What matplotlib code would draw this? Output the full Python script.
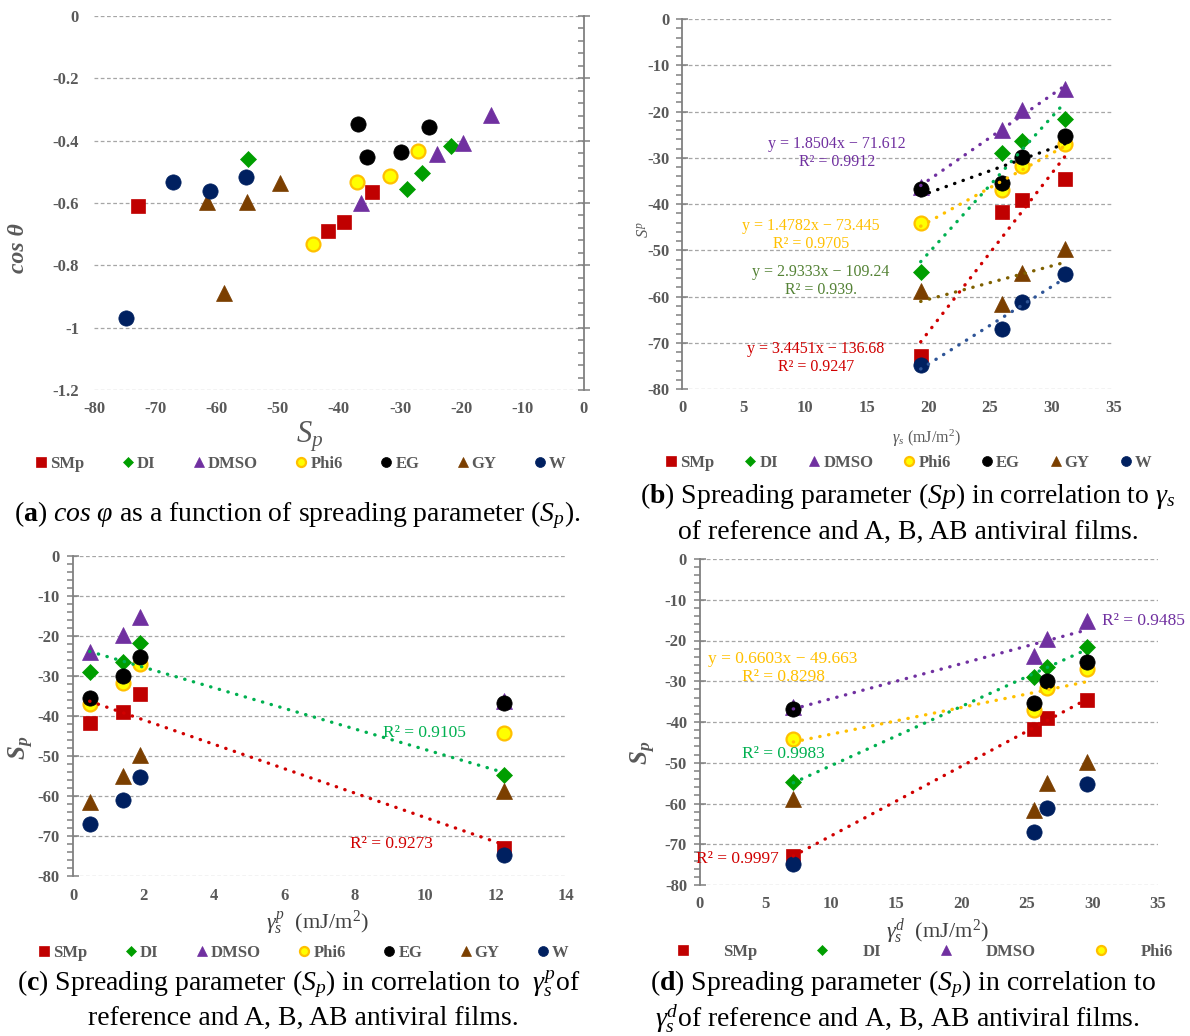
import matplotlib
matplotlib.use('Agg')
import matplotlib.pyplot as plt
import numpy as np

# series (test liquids)
liquids = ['SMp', 'DI', 'DMSO', 'Phi6', 'EG', 'GY', 'W']

# surface energy of the four films: total, polar and dispersive part (mJ/m2)
gamma_s = [19.37, 26.0, 27.6, 31.07]
gamma_p = [12.22, 0.47, 1.42, 1.89]
gamma_d = [7.16, 25.56, 26.54, 29.57]

# spreading parameter Sp of each liquid on the four films
sp_smp = [-72.9, -41.7, -39.1, -34.6]
sp_di = [-54.8, -28.9, -26.4, -21.7]
sp_dmso = [-36.3, -23.9, -19.7, -15.2]
sp_phi6 = [-44.2, -37.0, -31.7, -27.0]
sp_eg = [-36.8, -35.4, -29.9, -25.3]
sp_gy = [-58.8, -61.6, -55.0, -49.7]
sp_w = [-74.8, -67.1, -61.1, -55.2]

# cos(theta) of each liquid on the four films
cos_smp = [-0.61, -0.69, -0.66, -0.565]
cos_di = [-0.459, -0.555, -0.504, -0.416]
cos_dmso = [-0.60, -0.443, -0.409, -0.318]
cos_phi6 = [-0.733, -0.534, -0.512, -0.432]
cos_eg = [-0.347, -0.453, -0.437, -0.357]
cos_gy = [-0.89, -0.596, -0.596, -0.535]
cos_w = [-0.968, -0.533, -0.56, -0.516]

# trend line labels shown on the charts
labels_b = {
    'DMSO': 'y = 1.8504x \u2212 71.612\nR\u00b2 = 0.9912',
    'Phi6': 'y = 1.4782x \u2212 73.445\nR\u00b2 = 0.9705',
    'DI': 'y = 2.9333x \u2212 109.24\nR\u00b2 = 0.939.',
    'SMp': 'y = 3.4451x \u2212 136.68\nR\u00b2 = 0.9247',
}
labels_c = {'DI': 'R\u00b2 = 0.9105', 'SMp': 'R\u00b2 = 0.9273'}
labels_d = {
    'DMSO': 'R\u00b2 = 0.9485',
    'Phi6': 'y = 0.6603x \u2212 49.663\nR\u00b2 = 0.8298',
    'DI': 'R\u00b2 = 0.9983',
    'SMp': 'R\u00b2 = 0.9997',
}

sp = dict(zip(liquids, [sp_smp, sp_di, sp_dmso, sp_phi6, sp_eg, sp_gy, sp_w]))
cos_t = dict(zip(liquids, [cos_smp, cos_di, cos_dmso, cos_phi6, cos_eg, cos_gy, cos_w]))

# marker styles (marker, face, edge, size)
style = {
    'SMp': ('s', '#C00000', '#C00000', 10),
    'DI': ('D', '#009E00', '#009E00', 8),
    'DMSO': ('^', '#7030A0', '#7030A0', 11),
    'Phi6': ('o', '#FFFF00', '#FFC000', 10),
    'EG': ('o', '#000000', '#000000', 11),
    'GY': ('^', '#7B3F00', '#7B3F00', 11),
    'W': ('o', '#002060', '#002060', 11),
}
trend_color = {
    'SMp': '#D00000', 'DI': '#00B050', 'DMSO': '#7030A0', 'Phi6': '#FFC000',
    'EG': '#000000', 'GY': '#7F6000', 'W': '#2F5597',
}
text_color_b = {'DMSO': '#7030A0', 'Phi6': '#FFC000', 'DI': '#548235', 'SMp': '#D00000'}
GREY = '#595959'

W_PX, H_PX = 1190, 1036


def fxy(x, y):
    return x / W_PX, 1 - y / H_PX


def add_axes(fig, x0, y0, x1, y1):
    return fig.add_axes([x0 / W_PX, 1 - y1 / H_PX, (x1 - x0) / W_PX, (y1 - y0) / H_PX])


def style_axes(ax, xlim, xticks, ylim, yticks, yminor, side, ypad, xpad=8):
    ax.set_xlim(xlim)
    ax.set_ylim(ylim)
    ax.set_xticks(xticks)
    ax.set_xticklabels([f'{v:g}' for v in xticks], fontweight='bold')
    ax.set_yticks(yticks)
    ax.set_yticklabels([f'{v:g}' for v in yticks], fontweight='bold')
    ax.set_yticks(yminor, minor=True)
    for s in ax.spines.values():
        s.set_visible(False)
    ax.spines[side].set_visible(True)
    ax.spines[side].set_color('#808080')
    ax.spines[side].set_linewidth(1.3)
    ax.yaxis.grid(True, linestyle=(0, (3, 2)), color='#A6A6A6', linewidth=0.9)
    ax.set_axisbelow(True)
    ax.tick_params(axis='x', length=0, pad=xpad, labelsize=12, labelcolor=GREY)
    ax.tick_params(axis='y', which='both', left=(side == 'left'), right=(side == 'right'),
                   labelleft=True, labelright=False, color='#808080', width=1.1,
                   labelsize=12, labelcolor=GREY)
    ax.tick_params(axis='y', which='major', direction='inout', length=8, pad=ypad)
    ax.tick_params(axis='y', which='minor', direction='in' if side == 'right' else 'out', length=4)


def scatter_all(ax, xdata):
    for name in liquids:
        m, fc, ec, ms = style[name]
        xs = xdata[name] if isinstance(xdata, dict) else xdata
        ax.plot(xs, sp[name] if not isinstance(xdata, dict) else cos_t[name],
                linestyle='none', marker=m, ms=ms, mfc=fc, mec=ec,
                mew=1.6 if name == 'Phi6' else 0.5, label=name, zorder=3)


def trend(ax, xs, name):
    fit = np.polyfit(xs, sp[name], 1)
    xl = np.array([min(xs), max(xs)])
    ax.plot(xl, np.polyval(fit, xl), linestyle=(0, (0.1, 2.6)), dash_capstyle='round',
            lw=2.4, color=trend_color[name], zorder=4)


def legend(ax, fig, cx, cy, names=liquids, ncol=7, textpad=0.15, colspace=2.2):
    handles, labs = ax.get_legend_handles_labels()
    keep = [(h, l) for h, l in zip(handles, labs) if l in names]
    leg = ax.legend([k[0] for k in keep], [k[1] for k in keep], loc='center',
                    bbox_to_anchor=fxy(cx, cy), bbox_transform=fig.transFigure,
                    ncol=ncol, frameon=False, handlelength=0.8, handletextpad=textpad,
                    columnspacing=colspace, markerscale=0.65,
                    prop=dict(weight='bold', size=12))
    for t in leg.get_texts():
        t.set_color(GREY)


def main():
    plt.rcParams['font.family'] = ['Liberation Serif', 'DejaVu Serif']
    plt.rcParams['mathtext.fontset'] = 'custom'
    plt.rcParams['mathtext.rm'] = 'Liberation Serif'
    plt.rcParams['mathtext.it'] = 'Liberation Serif:italic'
    plt.rcParams['mathtext.bf'] = 'Liberation Serif:bold'
    plt.rcParams['mathtext.bfit'] = 'Liberation Serif:bold:italic'
    plt.rcParams['axes.unicode_minus'] = False

    fig = plt.figure(figsize=(11.9, 10.36), dpi=100)

    # (a) cos theta vs Sp
    ax = add_axes(fig, 94.2, 16, 583.5, 390)
    scatter_all(ax, sp)
    style_axes(ax, (-80, 0), list(range(-80, 1, 10)), (-1.2, 0),
               [0, -0.2, -0.4, -0.6, -0.8, -1, -1.2], np.arange(-1.2, 0.001, 0.04),
               'right', ypad=7)
    legend(ax, fig, 300, 464)
    fig.text(*fxy(310, 437), r'$S_p$', fontsize=22, color=GREY, ha='center', va='center')
    fig.text(*fxy(19, 248), 'cos \u03b8', fontsize=17, color=GREY, style='italic',
             weight='bold', rotation=90, ha='center', va='center')

    # (b) Sp vs gamma_s
    ax = add_axes(fig, 682.1, 19, 1113.2, 389)
    scatter_all(ax, gamma_s)
    for name in liquids:
        trend(ax, gamma_s, name)
    style_axes(ax, (0, 35), list(range(0, 36, 5)), (-80, 0), list(range(-80, 1, 10)),
               np.arange(-80, 1, 2), 'left', ypad=5)
    legend(ax, fig, 908, 463, colspace=1.75)
    pos_b = {'DMSO': (837, 153), 'Phi6': (811, 235), 'DI': (821, 281), 'SMp': (816, 358)}
    for name, txt in labels_b.items():
        fig.text(*fxy(*pos_b[name]), txt, fontsize=11.5, color=text_color_b[name],
                 ha='center', va='center', linespacing=1.15)
    fig.text(*fxy(926, 438), r'$\gamma_s$ (mJ/m$^2$)', fontsize=11.5, color=GREY,
             ha='center', va='center')
    fig.text(*fxy(645, 230), r'$S^p$', fontsize=12, color=GREY, rotation=90,
             ha='center', va='center')

    # (c) Sp vs polar component
    ax = add_axes(fig, 73.1, 556, 566.2, 876)
    scatter_all(ax, gamma_p)
    for name in ['DI', 'SMp']:
        trend(ax, gamma_p, name)
    style_axes(ax, (0, 14), list(range(0, 15, 2)), (-80, 0), list(range(-80, 1, 10)),
               np.arange(-80, 1, 2), 'left', ypad=6, xpad=8.5)
    legend(ax, fig, 303, 953)
    fig.text(*fxy(424, 733), labels_c['DI'], fontsize=12.5, color='#00B050', ha='center', va='center')
    fig.text(*fxy(391, 844), labels_c['SMp'], fontsize=12.5, color='#D00000', ha='center', va='center')
    fig.text(*fxy(317, 923), r'$\gamma_s^p$  (mJ/m$^2$)', fontsize=16, color='#404040',
             ha='center', va='center')
    fig.text(*fxy(21, 748), r'$\mathbfit{S_p}$', fontsize=18, color=GREY, rotation=90,
             ha='center', va='center')

    # (d) Sp vs dispersive component
    ax = add_axes(fig, 699.5, 559, 1157.9, 885)
    scatter_all(ax, gamma_d)
    for name in ['DMSO', 'DI', 'Phi6', 'SMp']:
        trend(ax, gamma_d, name)
    style_axes(ax, (0, 35), list(range(0, 36, 5)), (-80, 0), list(range(-80, 1, 10)),
               np.arange(-80, 1, 2), 'left', ypad=5)
    legend(ax, fig, 925, 952, names=['SMp', 'DI', 'DMSO', 'Phi6'], ncol=4,
           textpad=2.0, colspace=3.5)
    pos_d = {'DMSO': (1143, 621), 'Phi6': (783, 668), 'DI': (783, 754), 'SMp': (737, 859)}
    for name, txt in labels_d.items():
        fig.text(*fxy(*pos_d[name]), txt, fontsize=12.5, color=trend_color[name],
                 ha='center', va='center', linespacing=1.15)
    fig.text(*fxy(937, 932), r'$\gamma_s^d$  (mJ/m$^2$)', fontsize=16, color='#404040',
             ha='center', va='center')
    fig.text(*fxy(643, 753), r'$\mathbfit{S_p}$', fontsize=18, color=GREY, rotation=90,
             ha='center', va='center')

    # captions
    cap = dict(fontsize=20, color='black', ha='center', va='center')
    fig.text(*fxy(297, 515), r'($\mathbf{a}$) $\mathit{cos\ \varphi}$ as a function of '
             r'spreading parameter ($S_p$).', **cap)
    fig.text(*fxy(908, 496), r'($\mathbf{b}$) Spreading parameter ($\mathit{Sp}$) in '
             r'correlation to $\gamma_s$', **cap)
    fig.text(*fxy(908, 532), 'of reference and A, B, AB antiviral films.', **cap)
    fig.text(*fxy(299, 984), r'($\mathbf{c}$) Spreading parameter ($S_p$) in correlation '
             r'to  $\gamma_s^p$of', **cap)
    fig.text(*fxy(303, 1018), 'reference and A, B, AB antiviral films.', **cap)
    fig.text(*fxy(903, 984), r'($\mathbf{d}$) Spreading parameter ($S_p$) in correlation to',
             **cap)
    fig.text(*fxy(897, 1019), r'$\gamma_s^d$of reference and A, B, AB antiviral films.', **cap)

    fig.savefig('out.png', dpi=100)


if __name__ == '__main__':
    main()
